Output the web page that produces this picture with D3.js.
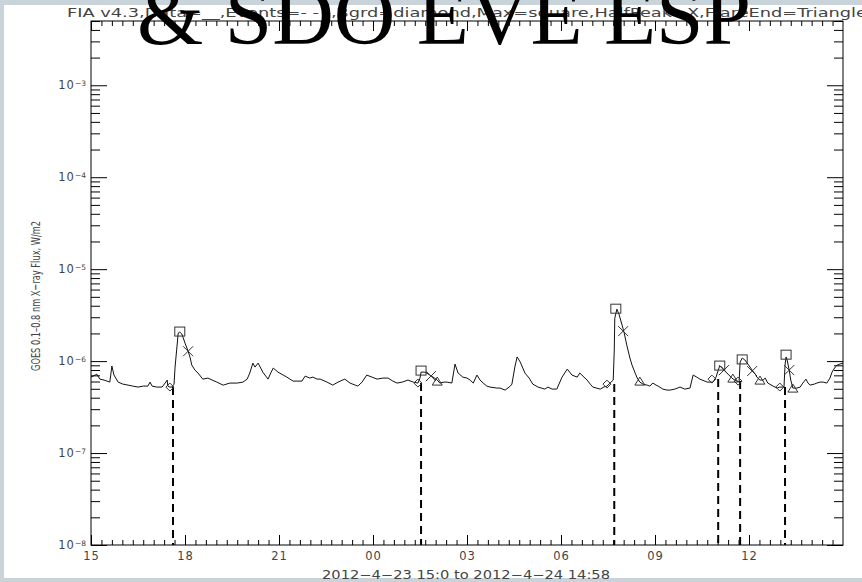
<!DOCTYPE html>
<meta charset="utf-8">
<style>
body { margin: 0; background: #c9d3da; }
svg { display: block; }
.tick text { font-family: "DejaVu Sans", sans-serif; font-size: 11.5px; fill: #444; letter-spacing: 1px; }
.axis .domain { display: none; }
.axis line { stroke: #000; }
</style>
<body>
<script src="https://cdn.jsdelivr.net/npm/d3@7/dist/d3.min.js"></script>
<script>

// GOES 0.1-0.8 nm flux, minutes after 2012-04-23 15:00 UT, flux in 1e-7 W/m2
var minutes = [0,8,11,17,25,36,40,44,52,61,71,80,90,100,109,113,117,126,136,142,146,147,151,155,159,161,167,170,174,180,
  186,190,193,199,205,214,224,232,241,253,266,280,291,299,304,310,314,320,329,339,345,349,358,368,375,387,396,404,410,419,
  425,433,439,452,463,473,486,496,506,511,519,528,538,548,559,569,578,586,596,607,617,626,630,632,638,643,649,655,663,668,
  676,682,691,697,703,712,720,726,732,739,745,751,758,764,777,783,793,803,806,812,816,822,831,839,846,856,869,875,883,892,
  902,912,921,931,936,944,950,956,961,975,982,988,994,1000,1002,1003,1007,1011,1017,1021,1026,1032,1036,1042,1046,1051,1057,1065,
  1070,1076,1082,1086,1095,1103,1109,1118,1128,1137,1147,1153,1160,1166,1180,1191,1197,1201,1204,1208,1214,1220,1227,1233,1241,1243,
  1247,1252,1258,1266,1272,1275,1281,1287,1291,1296,1306,1314,1319,1327,1329,1331,1333,1337,1340,1344,1352,1358,1363,1369,1373,1377,
  1385,1390,1396,1402,1409,1415,1419,1425,1429,1434,1440];
var flux7 = [6.70,7.05,7.22,6.37,6.22,5.91,8.83,7.05,5.91,5.62,5.48,5.35,5.22,5.35,5.35,5.91,5.35,5.22,5.22,5.77,6.22,5.35,5.22,5.22,5.62,8.61,20.2,20.7,19.7,15.7,
  12.8,10.8,9.05,7.98,7.41,6.37,6.54,6.22,5.91,5.48,5.77,5.77,5.91,6.37,7.41,9.51,8.61,9.51,7.59,6.37,7.59,8.40,7.59,7.05,6.70,6.06,6.06,6.06,6.87,6.54,
  6.70,6.37,6.37,5.91,5.48,5.91,6.37,5.77,5.48,5.35,5.91,7.05,6.70,6.37,6.54,6.54,6.06,5.77,5.91,6.22,5.91,5.77,6.54,7.59,7.59,7.41,7.05,6.70,6.22,5.77,
  5.91,5.91,5.77,9.28,7.41,6.70,6.54,6.22,5.77,7.05,6.22,5.77,5.35,5.22,5.09,5.09,4.84,5.35,5.62,8.83,11.1,9.75,7.41,6.54,5.62,5.22,4.96,5.22,4.96,4.96,
  6.70,8.19,7.05,6.70,7.41,6.70,6.22,5.62,5.22,4.96,5.22,5.35,5.77,6.22,13.2,29.3,36.7,32.4,24.6,20.2,14.9,10.8,9.05,7.41,6.54,5.91,5.62,5.48,
  5.35,5.77,5.48,5.35,4.96,4.84,4.84,4.96,5.22,4.96,5.09,7.05,6.70,6.37,5.91,5.91,6.70,7.98,8.83,8.61,7.79,7.22,6.54,6.22,5.91,9.75,
  10.8,10.3,9.28,7.98,7.22,6.70,6.22,6.22,6.54,5.77,5.35,5.09,5.22,5.22,9.05,11.1,10.3,7.98,6.22,5.09,5.09,5.22,5.77,6.37,5.77,5.48,
  5.62,5.77,5.91,5.91,5.77,6.54,7.59,8.61,9.05,9.28,9.51];

// detected events (minutes after start, flux in 1e-7 W/m2)
var startMin  = [157, 632, 1002, 1201, 1243, 1329];
var bgrdMin   = [151, 626, 988, 1189, 1239, 1319];
var bgrdFlux7 = [5.22, 5.77, 5.62, 6.37, 6.06, 5.22];
var maxMin    = [170, 632, 1005, 1204, 1247, 1331];
var maxFlux7  = [20.7, 7.79, 36.7, 8.83, 10.3, 11.6];
var halfMin   = [186, 651, 1019, 1212, 1266, 1337];
var halfFlux7 = [12.8, 6.87, 21.2, 7.98, 7.79, 7.98];
var endMin    = [663, 1051, 1229, 1281, 1344];
var endFlux7  = [5.91, 5.91, 6.37, 6.06, 4.96];

var decades = [-8, -7, -6, -5, -4, -3];

var t0 = Date.UTC(2012, 3, 23, 15, 0);
function tm(m) { return new Date(t0 + m * 60000); }

var W = 862, H = 582;
var pL = 91, pR = 843, pT = 21, pB = 545;

var x = d3.scaleUtc().domain([tm(0), tm(1440)]).range([pL, pR]);
var y = d3.scaleLog().domain([1e-8, 5e-3]).range([pB, pT]);

var svg = d3.select("body").append("svg")
    .attr("width", W).attr("height", H);

svg.append("rect").attr("width", W).attr("height", H).attr("fill", "#c9d3da");
svg.append("rect").attr("x", 4).attr("y", 5).attr("width", W - 4).attr("height", 573).attr("fill", "#fff");

// minor / major tick values
var majorX = d3.utcHour.every(3).range(tm(0), tm(1440));
var minorX = d3.utcMinute.every(20).range(tm(0), tm(1440));
var majorY = decades.map(function(d) { return Math.pow(10, d); });
var minorY = [];
decades.forEach(function(d) {
  for (var k = 2; k <= 9; k++) {
    var v = k * Math.pow(10, d);
    if (v <= 5e-3) minorY.push(v);
  }
});

// x axes (bottom + top)
svg.append("g").attr("class", "axis")
    .attr("transform", "translate(0," + pB + ")")
    .call(d3.axisBottom(x).tickValues(minorX).tickSize(-5).tickFormat(""));
svg.append("g").attr("class", "axis x")
    .attr("transform", "translate(0," + pB + ")")
    .call(d3.axisBottom(x).tickValues(majorX).tickSize(-10).tickPadding(7)
      .tickFormat(d3.utcFormat("%H")));
svg.append("g").attr("class", "axis")
    .attr("transform", "translate(0," + pT + ")")
    .call(d3.axisTop(x).tickValues(minorX).tickSize(-5).tickFormat(""));
svg.append("g").attr("class", "axis")
    .attr("transform", "translate(0," + pT + ")")
    .call(d3.axisTop(x).tickValues(majorX).tickSize(-10).tickFormat(""));

// y axes (left + right)
svg.append("g").attr("class", "axis")
    .attr("transform", "translate(" + pL + ",0)")
    .call(d3.axisLeft(y).tickValues(minorY).tickSize(-9).tickFormat(""));
var yl = svg.append("g").attr("class", "axis y")
    .attr("transform", "translate(" + pL + ",0)")
    .call(d3.axisLeft(y).tickValues(majorY).tickSize(-16).tickPadding(5).tickFormat(""));
yl.selectAll(".tick text").each(function(d) {
  var t = d3.select(this);
  t.text("10");
  t.append("tspan").attr("dy", "-0.45em").style("font-size", "7.5px").style("letter-spacing", "0")
    .text("\u2212" + Math.round(-Math.log10(d)));
});
svg.append("g").attr("class", "axis")
    .attr("transform", "translate(" + pR + ",0)")
    .call(d3.axisRight(y).tickValues(minorY).tickSize(-9).tickFormat(""));
svg.append("g").attr("class", "axis")
    .attr("transform", "translate(" + pR + ",0)")
    .call(d3.axisRight(y).tickValues(majorY).tickSize(-16).tickFormat(""));

// box
svg.append("rect")
    .attr("x", pL).attr("y", pT)
    .attr("width", pR - pL).attr("height", pB - pT)
    .attr("fill", "none").attr("stroke", "#000");

// event lines (dashed)
svg.append("g").selectAll("line").data(startMin).enter().append("line")
    .attr("x1", function(d) { return x(tm(d)); })
    .attr("x2", function(d) { return x(tm(d)); })
    .attr("y1", function(d, i) { return y(bgrdFlux7[i] * 1e-7); })
    .attr("y2", pB)
    .attr("stroke", "#000").attr("stroke-width", 2)
    .attr("stroke-dasharray", "8,5");

// flux curve
var series = minutes.map(function(m, i) { return { t: tm(m), f: flux7[i] * 1e-7 }; });
svg.append("path").datum(series)
    .attr("fill", "none").attr("stroke", "#111").attr("stroke-width", 1)
    .attr("d", d3.line().x(function(d) { return x(d.t); }).y(function(d) { return y(d.f); }));

// markers
var mk = svg.append("g").attr("fill", "none").attr("stroke", "#333").attr("stroke-width", 1);
function pts(ms, fs) { return ms.map(function(m, i) { return [x(tm(m)), y(fs[i] * 1e-7)]; }); }

mk.selectAll(".bg").data(pts(bgrdMin, bgrdFlux7)).enter().append("path")
    .attr("d", function(p) { return "M" + (p[0] - 4) + "," + p[1] + "L" + p[0] + "," + (p[1] - 4) +
      "L" + (p[0] + 4) + "," + p[1] + "L" + p[0] + "," + (p[1] + 4) + "Z"; });
mk.selectAll(".mx").data(pts(maxMin, maxFlux7)).enter().append("rect")
    .attr("x", function(p) { return p[0] - 5; }).attr("y", function(p) { return p[1] - 5; })
    .attr("width", 10).attr("height", 9);
mk.selectAll(".hp").data(pts(halfMin, halfFlux7)).enter().append("path")
    .attr("d", function(p) { return "M" + (p[0] - 5) + "," + (p[1] - 5) + "L" + (p[0] + 5) + "," + (p[1] + 5) +
      "M" + (p[0] - 5) + "," + (p[1] + 5) + "L" + (p[0] + 5) + "," + (p[1] - 5); });
mk.selectAll(".en").data(pts(endMin, endFlux7)).enter().append("path")
    .attr("d", function(p) { return "M" + (p[0] - 5) + "," + (p[1] + 3) + "L" + p[0] + "," + (p[1] - 5) +
      "L" + (p[0] + 5) + "," + (p[1] + 3) + "Z"; });

// texts
svg.append("text")
    .attr("x", 67).attr("y", 17)
    .attr("textLength", 800).attr("lengthAdjust", "spacingAndGlyphs")
    .style("font-family", "DejaVu Sans, sans-serif").style("font-size", "12px").style("fill", "#444")
    .text("FIA v4.3,Data=__,Events=- - -,Bgrd=diamond,Max=square,HalfPeak=X,FlareEnd=Triangle");

svg.append("text")
    .attr("x", 322).attr("y", 579)
    .attr("textLength", 288).attr("lengthAdjust", "spacingAndGlyphs")
    .style("font-family", "DejaVu Sans, sans-serif").style("font-size", "12px").style("fill", "#444")
    .text("2012\u22124\u221223 15:0 to 2012\u22124\u221224 14:58");

svg.append("text")
    .attr("transform", "translate(40,296) rotate(-90)")
    .attr("text-anchor", "middle")
    .attr("textLength", 150).attr("lengthAdjust", "spacingAndGlyphs")
    .style("font-family", "DejaVu Sans, sans-serif").style("font-size", "13px").style("fill", "#444")
    .text("GOES 0.1\u20130.8 nm X\u2212ray Flux, W/m2");

svg.append("text")
    .attr("x", 137).attr("y", 44)
    .attr("textLength", 614).attr("lengthAdjust", "spacingAndGlyphs")
    .style("font-family", "Liberation Serif, serif").style("font-size", "85px").style("fill", "#000")
    .text("& SDO EVE ESP");

</script>
</body>
